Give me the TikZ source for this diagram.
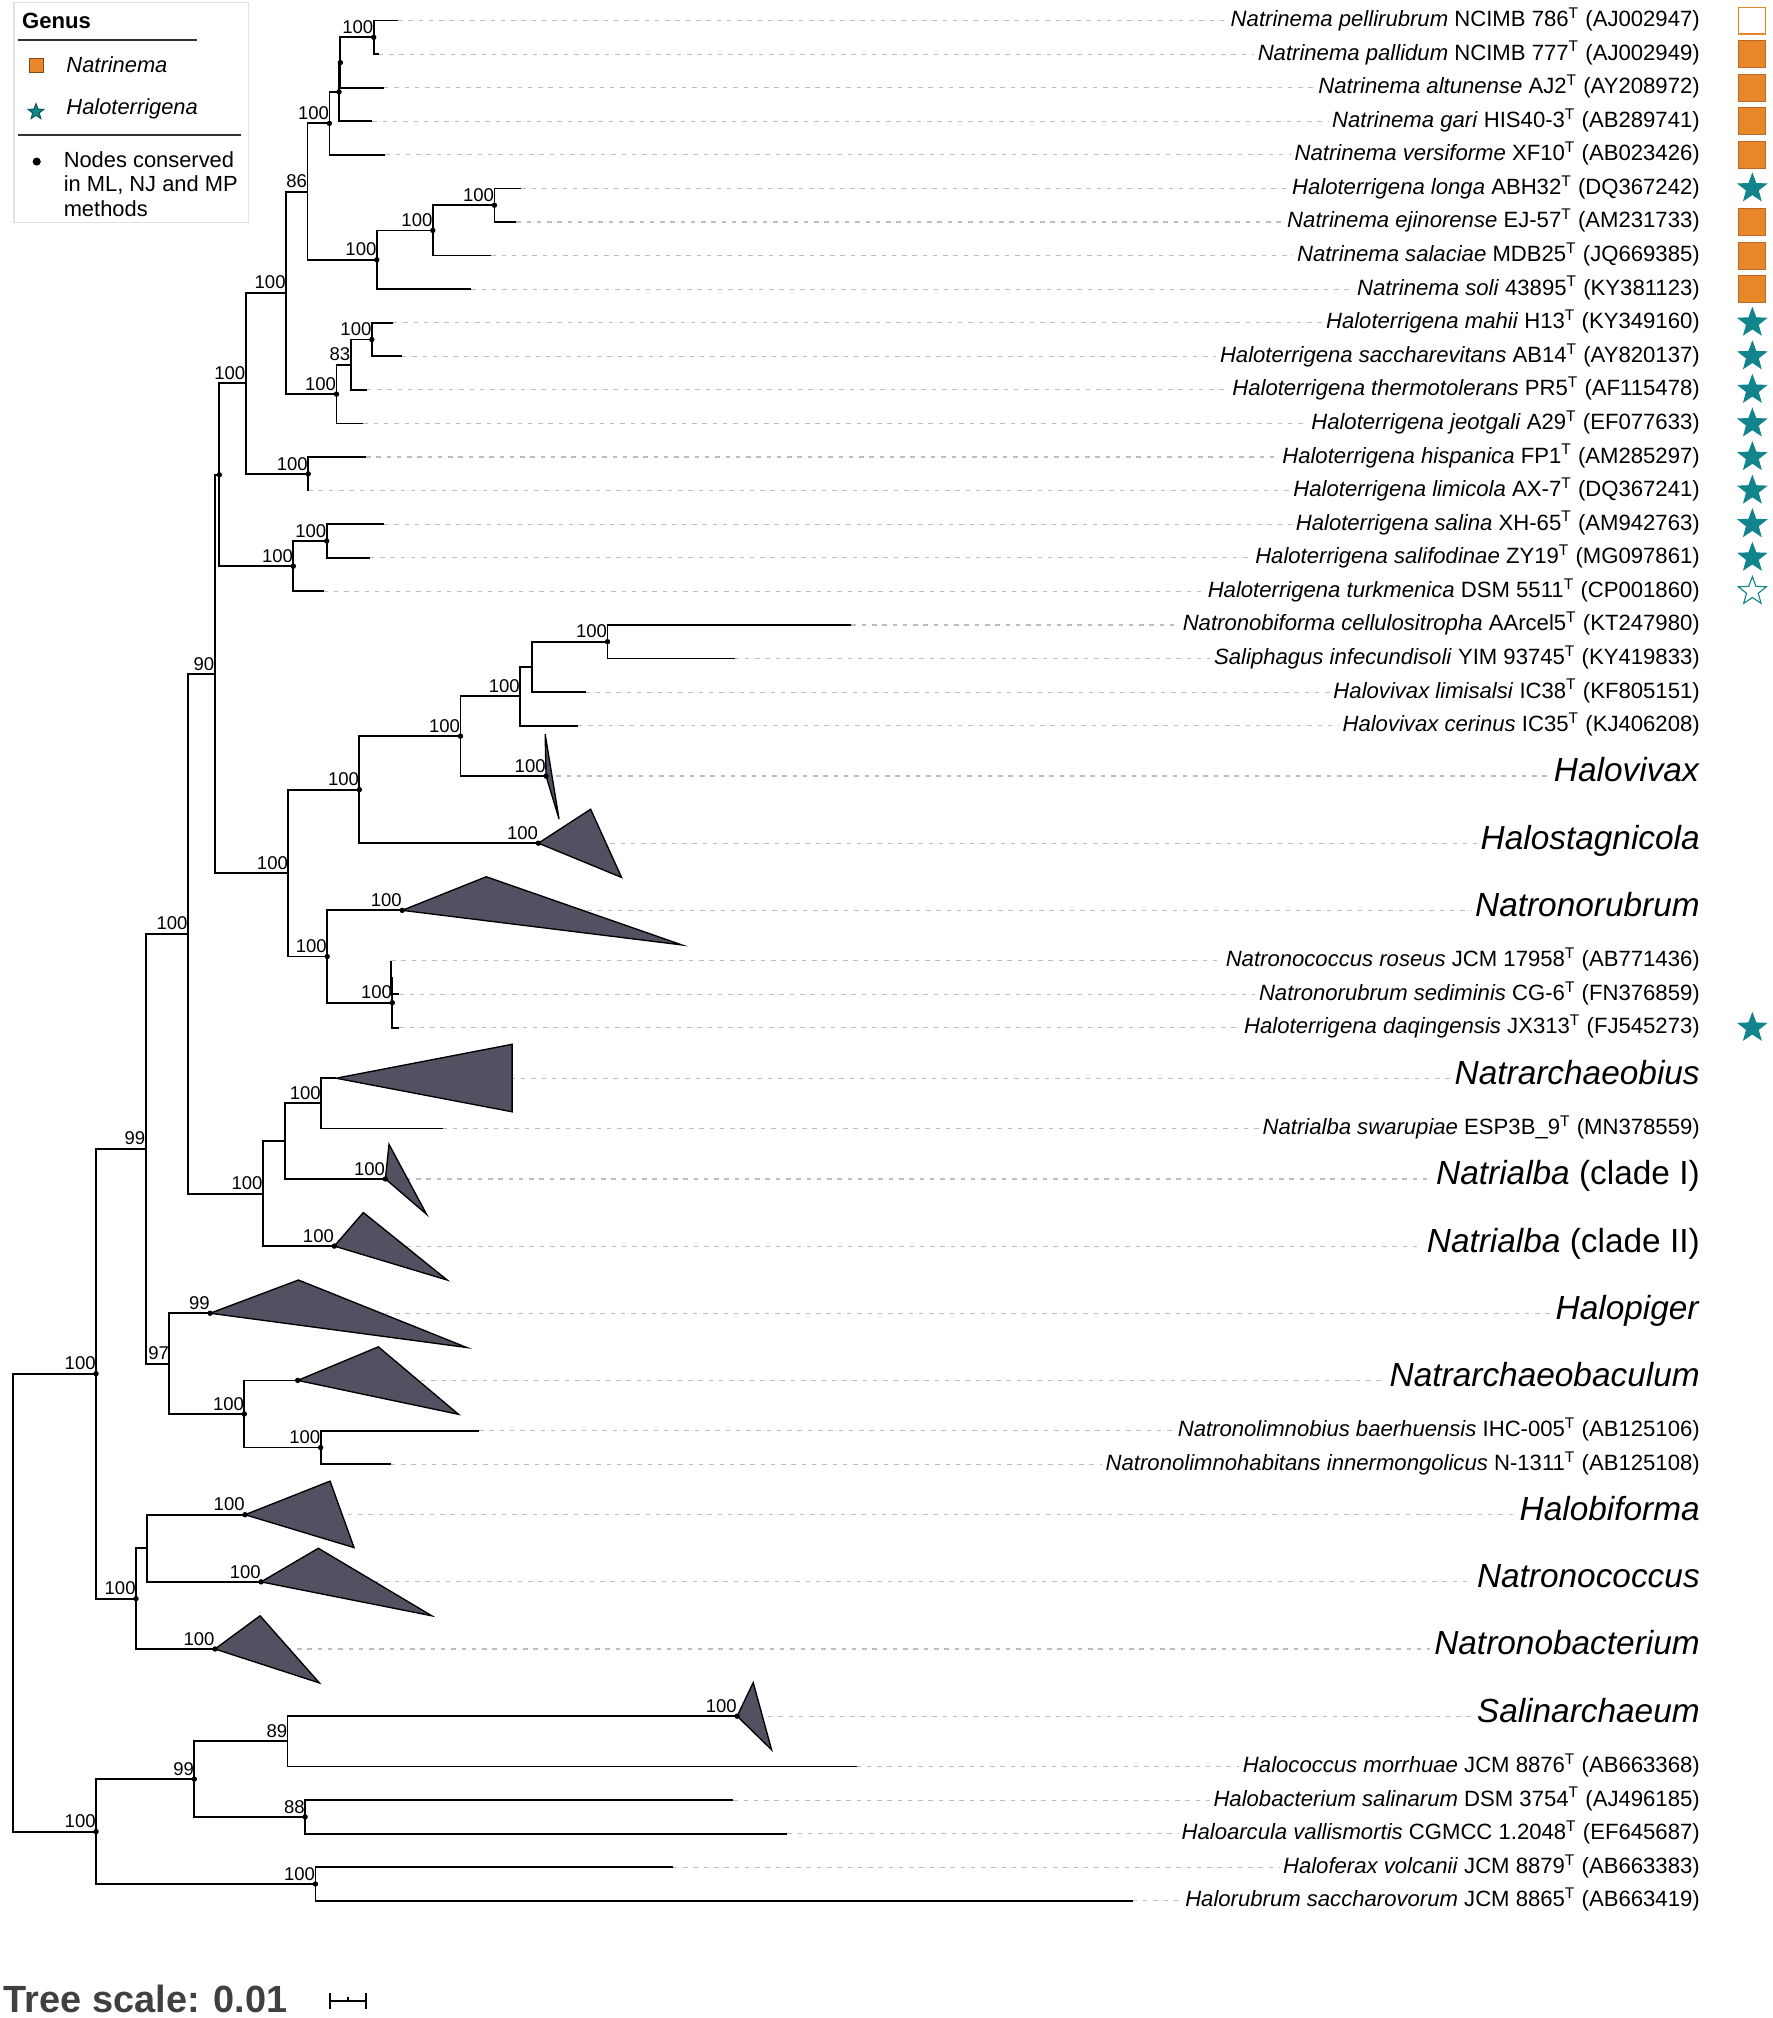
\documentclass[tikz,border=0pt]{standalone}
\usepackage{fontspec}
\setmainfont{Liberation Sans}
\usetikzlibrary{shapes.geometric}

\definecolor{natorange}{RGB}{232,134,42}
\definecolor{orangeedge}{RGB}{190,105,35}
\definecolor{haloteal}{RGB}{18,132,140}
\definecolor{tealedge}{RGB}{12,80,90}
\definecolor{cladefill}{RGB}{84,80,98}
\definecolor{guidegray}{RGB}{190,190,190}
\definecolor{framegray}{RGB}{225,225,225}
\definecolor{scalegray}{RGB}{64,64,64}

\newcommand{\typeT}{\textsuperscript{T}}

\begin{document}
\begin{tikzpicture}[x=0.02cm, y=-0.523cm,
  branch/.style={line width=0.8pt},
  guide/.style={draw=guidegray, line width=0.5pt, dash pattern=on 0.07cm off 0.09cm},
  collapsed/.style={draw=black, fill=cladefill, line width=0.6pt, line join=miter},
  leaf/.style={anchor=mid east, inner sep=1.5pt, font=\fontsize{9.8}{11}\selectfont},
  genus/.style={anchor=mid east, inner sep=1.5pt, font=\fontsize{14.8}{17}\selectfont},
  boot/.style={anchor=base east, inner sep=0pt, yshift=1.7pt, font=\fontsize{8.2}{9}\selectfont},
  orangebox/.style={draw=orangeedge, fill=natorange, line width=0.4pt, minimum size=0.42cm, inner sep=0pt},
  emptybox/.style={draw=natorange, fill=white, line width=0.5pt, minimum size=0.42cm, inner sep=0pt},
  tealstar/.style={star, star points=5, star point ratio=2.4, draw=haloteal, fill=haloteal, minimum size=0.46cm, inner sep=0pt},
  emptystar/.style={star, star points=5, star point ratio=2.4, draw=haloteal, fill=white, line width=0.5pt, minimum size=0.46cm, inner sep=0pt},
  legendtext/.style={anchor=west, inner sep=0pt, font=\fontsize{9.7}{10.8}\selectfont},
]
% Page frame (x in pixels, y in rows)
\useasboundingbox (0,-0.612) rectangle (1380,59.49);

% Internal nodes of the tree
\coordinate (a1) at (291,0.5);
\coordinate (a2) at (265,1.25);
\coordinate (a3) at (264,2.125);
\coordinate (a4) at (256.5,3.0625);
\coordinate (b1) at (385,5.5);
\coordinate (b2) at (337,6.25);
\coordinate (b3) at (293.4,7.125);
\coordinate (q) at (239.4,5.094);
\coordinate (c1) at (289.5,9.5);
\coordinate (c2) at (273,10.25);
\coordinate (c3) at (262,11.125);
\coordinate (u) at (222.7,8.109);
\coordinate (d1) at (240,13.5);
\coordinate (uu) at (191.3,10.805);
\coordinate (e1) at (254.4,15.5);
\coordinate (e2) at (228.4,16.25);
\coordinate (r1) at (170.8,13.527);
\coordinate (n1) at (473,18.5);
\coordinate (m5) at (414,19.25);
\coordinate (m4) at (405,20.125);
\coordinate (m3) at (358.5,21.313);
\coordinate (m1) at (279.8,22.906);
\coordinate (m6a) at (304.5,28.5);
\coordinate (m6) at (305.5,29.25);
\coordinate (m2) at (254.8,27.875);
\coordinate (m0) at (224.5,25.39);
\coordinate (n90) at (167.2,19.459);
\coordinate (g3) at (250.1,32.25);
\coordinate (g2) at (221.7,33.375);
\coordinate (g1) at (204.7,34.938);
\coordinate (n100b) at (146.3,27.198);
\coordinate (h2) at (249.7,42.5);
\coordinate (h1) at (190.3,41.5);
\coordinate (h97) at (131.9,40);
\coordinate (h99) at (113.4,33.599);
\coordinate (lo2) at (114.2,45.5);
\coordinate (lo1) at (105.9,47);
\coordinate (ru) at (74.8,40.3);
\coordinate (n89) at (223.9,51.25);
\coordinate (n88) at (237.6,53.5);
\coordinate (n99b) at (151.3,52.375);
\coordinate (n100c) at (245.6,55.5);
\coordinate (rl) at (74.8,53.938);
\coordinate (root) at (10.4,47.119);

% Branch tips
\coordinate (t0) at (310,0);
\coordinate (t1) at (295,1);
\coordinate (t2) at (299,2);
\coordinate (t3) at (290,3);
\coordinate (t4) at (300,4);
\coordinate (t5) at (406,5);
\coordinate (t6) at (402,6);
\coordinate (t7) at (382.5,7);
\coordinate (t8) at (367,8);
\coordinate (t9) at (306,9);
\coordinate (t10) at (313,10);
\coordinate (t11) at (285.6,11);
\coordinate (t12) at (283,12);
\coordinate (t13) at (285,13);
\coordinate (t14) at (240,14);
\coordinate (t15) at (299,15);
\coordinate (t16) at (288,16);
\coordinate (t17) at (252,17);
\coordinate (t18) at (663,18);
\coordinate (t19) at (572,19);
\coordinate (t20) at (456,20);
\coordinate (t21) at (450,21);
\coordinate (t28) at (304.5,28);
\coordinate (t29) at (311,29);
\coordinate (t30) at (311,30);
\coordinate (t33) at (344.6,33);
\coordinate (t42) at (373,42);
\coordinate (t43) at (304.3,43);
\coordinate (t52) at (667,52);
\coordinate (t53) at (571,53);
\coordinate (t54) at (613,54);
\coordinate (t55) at (524,55);
\coordinate (t56) at (882,56);

% Collapsed clades: apex, top and bottom corner
\coordinate (vivax) at (425.2,22.5);
\coordinate (vivaxTop) at (424.5,21.25);
\coordinate (vivaxBot) at (435.3,23.78);
\coordinate (stagni) at (419.2,24.5);
\coordinate (stagniTop) at (459.9,23.49);
\coordinate (stagniBot) at (484,25.52);
\coordinate (rubrum) at (313.2,26.5);
\coordinate (rubrumTop) at (378.6,25.5);
\coordinate (rubrumBot) at (530.9,27.53);
\coordinate (obius) at (261.7,31.5);
\coordinate (obiusTop) at (398.8,30.49);
\coordinate (obiusBot) at (398.8,32.5);
\coordinate (albaI) at (300.1,34.5);
\coordinate (albaITop) at (302.9,33.47);
\coordinate (albaIBot) at (332.1,35.55);
\coordinate (albaII) at (260.3,36.5);
\coordinate (albaIITop) at (282.9,35.5);
\coordinate (albaIIBot) at (348.2,37.51);
\coordinate (piger) at (163.6,38.5);
\coordinate (pigerTop) at (232.4,37.51);
\coordinate (pigerBot) at (363.4,39.52);
\coordinate (baculum) at (231.8,40.5);
\coordinate (baculumTop) at (294.6,39.5);
\coordinate (baculumBot) at (357,41.51);
\coordinate (biforma) at (190.8,44.5);
\coordinate (biformaTop) at (257,43.5);
\coordinate (biformaBot) at (275.7,45.48);
\coordinate (coccus) at (203.3,46.5);
\coordinate (coccusTop) at (247.9,45.5);
\coordinate (coccusBot) at (336.2,47.51);
\coordinate (bacter) at (167.4,48.5);
\coordinate (bacterTop) at (202.5,47.51);
\coordinate (bacterBot) at (248.7,49.51);
\coordinate (salin) at (574,50.5);
\coordinate (salinTop) at (586.5,49.5);
\coordinate (salinBot) at (600.8,51.5);

% Leaf labels
\node[leaf] (l0) at (1326.5,0) {\textit{Natrinema pellirubrum} NCIMB 786\typeT{} (AJ002947)};
\node[leaf] (l1) at (1326.5,1) {\textit{Natrinema pallidum} NCIMB 777\typeT{} (AJ002949)};
\node[leaf] (l2) at (1326.5,2) {\textit{Natrinema altunense} AJ2\typeT{} (AY208972)};
\node[leaf] (l3) at (1326.5,3) {\textit{Natrinema gari} HIS40-3\typeT{} (AB289741)};
\node[leaf] (l4) at (1326.5,4) {\textit{Natrinema versiforme} XF10\typeT{} (AB023426)};
\node[leaf] (l5) at (1326.5,5) {\textit{Haloterrigena longa} ABH32\typeT{} (DQ367242)};
\node[leaf] (l6) at (1326.5,6) {\textit{Natrinema ejinorense} EJ-57\typeT{} (AM231733)};
\node[leaf] (l7) at (1326.5,7) {\textit{Natrinema salaciae} MDB25\typeT{} (JQ669385)};
\node[leaf] (l8) at (1326.5,8) {\textit{Natrinema soli} 43895\typeT{} (KY381123)};
\node[leaf] (l9) at (1326.5,9) {\textit{Haloterrigena mahii} H13\typeT{} (KY349160)};
\node[leaf] (l10) at (1326.5,10) {\textit{Haloterrigena saccharevitans} AB14\typeT{} (AY820137)};
\node[leaf] (l11) at (1326.5,11) {\textit{Haloterrigena thermotolerans} PR5\typeT{} (AF115478)};
\node[leaf] (l12) at (1326.5,12) {\textit{Haloterrigena jeotgali} A29\typeT{} (EF077633)};
\node[leaf] (l13) at (1326.5,13) {\textit{Haloterrigena hispanica} FP1\typeT{} (AM285297)};
\node[leaf] (l14) at (1326.5,14) {\textit{Haloterrigena limicola} AX-7\typeT{} (DQ367241)};
\node[leaf] (l15) at (1326.5,15) {\textit{Haloterrigena salina} XH-65\typeT{} (AM942763)};
\node[leaf] (l16) at (1326.5,16) {\textit{Haloterrigena salifodinae} ZY19\typeT{} (MG097861)};
\node[leaf] (l17) at (1326.5,17) {\textit{Haloterrigena turkmenica} DSM 5511\typeT{} (CP001860)};
\node[leaf] (l18) at (1326.5,18) {\textit{Natronobiforma cellulositropha} AArcel5\typeT{} (KT247980)};
\node[leaf] (l19) at (1326.5,19) {\textit{Saliphagus infecundisoli} YIM 93745\typeT{} (KY419833)};
\node[leaf] (l20) at (1326.5,20) {\textit{Halovivax limisalsi} IC38\typeT{} (KF805151)};
\node[leaf] (l21) at (1326.5,21) {\textit{Halovivax cerinus} IC35\typeT{} (KJ406208)};
\node[genus] (lVivax) at (1326.5,22.5) {\textit{Halovivax}};
\node[genus] (lStagni) at (1326.5,24.5) {\textit{Halostagnicola}};
\node[genus] (lRubrum) at (1326.5,26.5) {\textit{Natronorubrum}};
\node[leaf] (l28) at (1326.5,28) {\textit{Natronococcus roseus} JCM 17958\typeT{} (AB771436)};
\node[leaf] (l29) at (1326.5,29) {\textit{Natronorubrum sediminis} CG-6\typeT{} (FN376859)};
\node[leaf] (l30) at (1326.5,30) {\textit{Haloterrigena daqingensis} JX313\typeT{} (FJ545273)};
\node[genus] (lObius) at (1326.5,31.5) {\textit{Natrarchaeobius}};
\node[leaf] (l33) at (1326.5,33) {\textit{Natrialba swarupiae} ESP3B\_9\typeT{} (MN378559)};
\node[genus] (lAlbaI) at (1326.5,34.5) {\textit{Natrialba} (clade I)};
\node[genus] (lAlbaII) at (1326.5,36.5) {\textit{Natrialba} (clade II)};
\node[genus] (lPiger) at (1326.5,38.5) {\textit{Halopiger}};
\node[genus] (lBaculum) at (1326.5,40.5) {\textit{Natrarchaeobaculum}};
\node[leaf] (l42) at (1326.5,42) {\textit{Natronolimnobius baerhuensis} IHC-005\typeT{} (AB125106)};
\node[leaf] (l43) at (1326.5,43) {\textit{Natronolimnohabitans innermongolicus} N-1311\typeT{} (AB125108)};
\node[genus] (lBiforma) at (1326.5,44.5) {\textit{Halobiforma}};
\node[genus] (lCoccus) at (1326.5,46.5) {\textit{Natronococcus}};
\node[genus] (lBacter) at (1326.5,48.5) {\textit{Natronobacterium}};
\node[genus] (lSalin) at (1326.5,50.5) {\textit{Salinarchaeum}};
\node[leaf] (l52) at (1326.5,52) {\textit{Halococcus morrhuae} JCM 8876\typeT{} (AB663368)};
\node[leaf] (l53) at (1326.5,53) {\textit{Halobacterium salinarum} DSM 3754\typeT{} (AJ496185)};
\node[leaf] (l54) at (1326.5,54) {\textit{Haloarcula vallismortis} CGMCC 1.2048\typeT{} (EF645687)};
\node[leaf] (l55) at (1326.5,55) {\textit{Haloferax volcanii} JCM 8879\typeT{} (AB663383)};
\node[leaf] (l56) at (1326.5,56) {\textit{Halorubrum saccharovorum} JCM 8865\typeT{} (AB663419)};

% Dashed guides from the tips to the labels
\draw[guide] (t0) -- (l0.mid west);
\draw[guide] (t1) -- (l1.mid west);
\draw[guide] (t2) -- (l2.mid west);
\draw[guide] (t3) -- (l3.mid west);
\draw[guide] (t4) -- (l4.mid west);
\draw[guide] (t5) -- (l5.mid west);
\draw[guide] (t6) -- (l6.mid west);
\draw[guide] (t7) -- (l7.mid west);
\draw[guide] (t8) -- (l8.mid west);
\draw[guide] (t9) -- (l9.mid west);
\draw[guide] (t10) -- (l10.mid west);
\draw[guide] (t11) -- (l11.mid west);
\draw[guide] (t12) -- (l12.mid west);
\draw[guide] (t13) -- (l13.mid west);
\draw[guide] (t14) -- (l14.mid west);
\draw[guide] (t15) -- (l15.mid west);
\draw[guide] (t16) -- (l16.mid west);
\draw[guide] (t17) -- (l17.mid west);
\draw[guide] (t18) -- (l18.mid west);
\draw[guide] (t19) -- (l19.mid west);
\draw[guide] (t20) -- (l20.mid west);
\draw[guide] (t21) -- (l21.mid west);
\draw[guide] (vivax) -- (lVivax.mid west);
\draw[guide] (stagni) -- (lStagni.mid west);
\draw[guide] (rubrum) -- (lRubrum.mid west);
\draw[guide] (t28) -- (l28.mid west);
\draw[guide] (t29) -- (l29.mid west);
\draw[guide] (t30) -- (l30.mid west);
\draw[guide] (obius) -- (lObius.mid west);
\draw[guide] (t33) -- (l33.mid west);
\draw[guide] (albaI) -- (lAlbaI.mid west);
\draw[guide] (albaII) -- (lAlbaII.mid west);
\draw[guide] (piger) -- (lPiger.mid west);
\draw[guide] (baculum) -- (lBaculum.mid west);
\draw[guide] (t42) -- (l42.mid west);
\draw[guide] (t43) -- (l43.mid west);
\draw[guide] (biforma) -- (lBiforma.mid west);
\draw[guide] (coccus) -- (lCoccus.mid west);
\draw[guide] (bacter) -- (lBacter.mid west);
\draw[guide] (salin) -- (lSalin.mid west);
\draw[guide] (t52) -- (l52.mid west);
\draw[guide] (t53) -- (l53.mid west);
\draw[guide] (t54) -- (l54.mid west);
\draw[guide] (t55) -- (l55.mid west);
\draw[guide] (t56) -- (l56.mid west);

% Draw the collapsed clades
\filldraw[collapsed] (vivax) -- (vivaxTop) -- (vivaxBot) -- cycle;
\filldraw[collapsed] (stagni) -- (stagniTop) -- (stagniBot) -- cycle;
\filldraw[collapsed] (rubrum) -- (rubrumTop) -- (rubrumBot) -- cycle;
\filldraw[collapsed] (obius) -- (obiusTop) -- (obiusBot) -- cycle;
\filldraw[collapsed] (albaI) -- (albaITop) -- (albaIBot) -- cycle;
\filldraw[collapsed] (albaII) -- (albaIITop) -- (albaIIBot) -- cycle;
\filldraw[collapsed] (piger) -- (pigerTop) -- (pigerBot) -- cycle;
\filldraw[collapsed] (baculum) -- (baculumTop) -- (baculumBot) -- cycle;
\filldraw[collapsed] (biforma) -- (biformaTop) -- (biformaBot) -- cycle;
\filldraw[collapsed] (coccus) -- (coccusTop) -- (coccusBot) -- cycle;
\filldraw[collapsed] (bacter) -- (bacterTop) -- (bacterBot) -- cycle;
\filldraw[collapsed] (salin) -- (salinTop) -- (salinBot) -- cycle;

% Draw the branches, parent to child
\draw[branch] (a1) |- (t0);
\draw[branch] (a1) |- (t1);
\draw[branch] (a2) |- (a1);
\draw[branch] (a2) |- (t2);
\draw[branch] (a3) |- (a2);
\draw[branch] (a3) |- (t3);
\draw[branch] (a4) |- (a3);
\draw[branch] (a4) |- (t4);
\draw[branch] (b1) |- (t5);
\draw[branch] (b1) |- (t6);
\draw[branch] (b2) |- (b1);
\draw[branch] (b2) |- (t7);
\draw[branch] (b3) |- (b2);
\draw[branch] (b3) |- (t8);
\draw[branch] (q) |- (a4);
\draw[branch] (q) |- (b3);
\draw[branch] (c1) |- (t9);
\draw[branch] (c1) |- (t10);
\draw[branch] (c2) |- (c1);
\draw[branch] (c2) |- (t11);
\draw[branch] (c3) |- (c2);
\draw[branch] (c3) |- (t12);
\draw[branch] (u) |- (q);
\draw[branch] (u) |- (c3);
\draw[branch] (d1) |- (t13);
\draw[branch] (d1) |- (t14);
\draw[branch] (uu) |- (u);
\draw[branch] (uu) |- (d1);
\draw[branch] (e1) |- (t15);
\draw[branch] (e1) |- (t16);
\draw[branch] (e2) |- (e1);
\draw[branch] (e2) |- (t17);
\draw[branch] (r1) |- (uu);
\draw[branch] (r1) |- (e2);
\draw[branch] (n1) |- (t18);
\draw[branch] (n1) |- (t19);
\draw[branch] (m5) |- (n1);
\draw[branch] (m5) |- (t20);
\draw[branch] (m4) |- (m5);
\draw[branch] (m4) |- (t21);
\draw[branch] (m3) |- (m4);
\draw[branch] (m3) |- (vivax);
\draw[branch] (m1) |- (m3);
\draw[branch] (m1) |- (stagni);
\draw[branch] (m6a) |- (t28);
\draw[branch] (m6a) |- (t29);
\draw[branch] (m6) |- (m6a);
\draw[branch] (m6) |- (t30);
\draw[branch] (m2) |- (rubrum);
\draw[branch] (m2) |- (m6);
\draw[branch] (m0) |- (m1);
\draw[branch] (m0) |- (m2);
\draw[branch] (n90) |- (r1);
\draw[branch] (n90) |- (m0);
\draw[branch] (g3) |- (obius);
\draw[branch] (g3) |- (t33);
\draw[branch] (g2) |- (g3);
\draw[branch] (g2) |- (albaI);
\draw[branch] (g1) |- (g2);
\draw[branch] (g1) |- (albaII);
\draw[branch] (n100b) |- (n90);
\draw[branch] (n100b) |- (g1);
\draw[branch] (h2) |- (t42);
\draw[branch] (h2) |- (t43);
\draw[branch] (h1) |- (baculum);
\draw[branch] (h1) |- (h2);
\draw[branch] (h97) |- (piger);
\draw[branch] (h97) |- (h1);
\draw[branch] (h99) |- (n100b);
\draw[branch] (h99) |- (h97);
\draw[branch] (lo2) |- (biforma);
\draw[branch] (lo2) |- (coccus);
\draw[branch] (lo1) |- (lo2);
\draw[branch] (lo1) |- (bacter);
\draw[branch] (ru) |- (h99);
\draw[branch] (ru) |- (lo1);
\draw[branch] (n89) |- (salin);
\draw[branch] (n89) |- (t52);
\draw[branch] (n88) |- (t53);
\draw[branch] (n88) |- (t54);
\draw[branch] (n99b) |- (n89);
\draw[branch] (n99b) |- (n88);
\draw[branch] (n100c) |- (t55);
\draw[branch] (n100c) |- (t56);
\draw[branch] (rl) |- (n99b);
\draw[branch] (rl) |- (n100c);
\draw[branch] (root) |- (ru);
\draw[branch] (root) |- (rl);

% Nodes conserved in ML, NJ and MP
\fill (a1) circle (1.2pt);
\fill (a2) circle (1.2pt);
\fill (a3) circle (1.2pt);
\fill (a4) circle (1.2pt);
\fill (b1) circle (1.2pt);
\fill (b2) circle (1.2pt);
\fill (b3) circle (1.2pt);
\fill (c1) circle (1.2pt);
\fill (c3) circle (1.2pt);
\fill (d1) circle (1.2pt);
\fill (e1) circle (1.2pt);
\fill (e2) circle (1.2pt);
\fill (r1) circle (1.2pt);
\fill (n1) circle (1.2pt);
\fill (m3) circle (1.2pt);
\fill (vivax) circle (1.2pt);
\fill (stagni) circle (1.2pt);
\fill (m1) circle (1.2pt);
\fill (rubrum) circle (1.2pt);
\fill (m6) circle (1.2pt);
\fill (m2) circle (1.2pt);
\fill (albaI) circle (1.2pt);
\fill (albaII) circle (1.2pt);
\fill (piger) circle (1.2pt);
\fill (baculum) circle (1.2pt);
\fill (h1) circle (1.2pt);
\fill (h2) circle (1.2pt);
\fill (biforma) circle (1.2pt);
\fill (coccus) circle (1.2pt);
\fill (bacter) circle (1.2pt);
\fill (lo1) circle (1.2pt);
\fill (ru) circle (1.2pt);
\fill (salin) circle (1.2pt);
\fill (n99b) circle (1.2pt);
\fill (n88) circle (1.2pt);
\fill (n100c) circle (1.2pt);
\fill (rl) circle (1.2pt);

% Bootstrap values
\node[boot] (bs-a1) at (a1) {100};
\node[boot] (bs-a4) at (a4) {100};
\node[boot] (bs-b1) at (b1) {100};
\node[boot] (bs-b2) at (b2) {100};
\node[boot] (bs-b3) at (b3) {100};
\node[boot] (bs-q) at (q) {86};
\node[boot] (bs-c1) at (c1) {100};
\node[boot] (bs-c2) at (c2) {83};
\node[boot] (bs-c3) at (c3) {100};
\node[boot] (bs-u) at (u) {100};
\node[boot] (bs-d1) at (d1) {100};
\node[boot] (bs-uu) at (uu) {100};
\node[boot] (bs-e1) at (e1) {100};
\node[boot] (bs-e2) at (e2) {100};
\node[boot] (bs-n1) at (n1) {100};
\node[boot] (bs-m4) at (m4) {100};
\node[boot] (bs-m3) at (m3) {100};
\node[boot] (bs-vivax) at (vivax) {100};
\node[boot] (bs-stagni) at (stagni) {100};
\node[boot] (bs-m1) at (m1) {100};
\node[boot] (bs-rubrum) at (rubrum) {100};
\node[boot] (bs-m6) at (m6) {100};
\node[boot] (bs-m2) at (m2) {100};
\node[boot] (bs-m0) at (m0) {100};
\node[boot] (bs-n90) at (n90) {90};
\node[boot] (bs-g3) at (g3) {100};
\node[boot] (bs-albaI) at (albaI) {100};
\node[boot] (bs-g1) at (g1) {100};
\node[boot] (bs-albaII) at (albaII) {100};
\node[boot] (bs-n100b) at (n100b) {100};
\node[boot] (bs-piger) at (piger) {99};
\node[boot] (bs-h97) at (h97) {97};
\node[boot] (bs-h1) at (h1) {100};
\node[boot] (bs-h2) at (h2) {100};
\node[boot] (bs-h99) at (h99) {99};
\node[boot] (bs-biforma) at (biforma) {100};
\node[boot] (bs-coccus) at (coccus) {100};
\node[boot] (bs-bacter) at (bacter) {100};
\node[boot] (bs-lo1) at (lo1) {100};
\node[boot] (bs-ru) at (ru) {100};
\node[boot] (bs-salin) at (salin) {100};
\node[boot] (bs-n89) at (n89) {89};
\node[boot] (bs-n99b) at (n99b) {99};
\node[boot] (bs-n88) at (n88) {88};
\node[boot] (bs-n100c) at (n100c) {100};
\node[boot] (bs-rl) at (rl) {100};

% Genus markers on the right
\node[emptybox] (mk0) at (1364.5,0) {};
\node[orangebox] (mk1) at (1364.5,1) {};
\node[orangebox] (mk2) at (1364.5,2) {};
\node[orangebox] (mk3) at (1364.5,3) {};
\node[orangebox] (mk4) at (1364.5,4) {};
\node[tealstar] (mk5) at (1364.5,5) {};
\node[orangebox] (mk6) at (1364.5,6) {};
\node[orangebox] (mk7) at (1364.5,7) {};
\node[orangebox] (mk8) at (1364.5,8) {};
\node[tealstar] (mk9) at (1364.5,9) {};
\node[tealstar] (mk10) at (1364.5,10) {};
\node[tealstar] (mk11) at (1364.5,11) {};
\node[tealstar] (mk12) at (1364.5,12) {};
\node[tealstar] (mk13) at (1364.5,13) {};
\node[tealstar] (mk14) at (1364.5,14) {};
\node[tealstar] (mk15) at (1364.5,15) {};
\node[tealstar] (mk16) at (1364.5,16) {};
\node[emptystar] (mk17) at (1364.5,17) {};
\node[tealstar] (mk30) at (1364.5,30) {};

% Legend
\filldraw[draw=framegray, fill=white, line width=0.5pt] (10.9,-0.535) rectangle (193.4,6.02);
\node[legendtext, font=\fontsize{9.8}{11}\selectfont\bfseries] (lgGenus) at (16.9,0) {Genus};
\coordinate (lgRuleAL) at (14.3,0.58);
\coordinate (lgRuleAR) at (153.7,0.58);
\draw[line width=0.7pt, black!80] (lgRuleAL) -- (lgRuleAR);
\node[orangebox, draw=orangeedge!70!black, minimum size=0.22cm] (lgBox) at (28.3,1.34) {};
\node[legendtext] (lgNat) at (51.4,1.32) {\textit{Natrinema}};
\node[tealstar, draw=tealedge, minimum size=0.26cm] (lgStar) at (28,2.72) {};
\node[legendtext] (lgHal) at (51.4,2.62) {\textit{Haloterrigena}};
\coordinate (lgRuleBL) at (14.3,3.41);
\coordinate (lgRuleBR) at (187.4,3.41);
\draw[line width=0.7pt, black!80] (lgRuleBL) -- (lgRuleBR);
\fill (28.6,4.2) circle (1.8pt);
\node[legendtext, anchor=north west, align=left] (lgNodes) at (49.3,3.89) {Nodes conserved\\in ML, NJ and MP\\methods};

% Tree scale
\node[anchor=west, inner sep=0pt, text=scalegray, font=\fontsize{16.8}{19}\selectfont\bfseries] (treescale) at (2.6,58.93) {Tree scale: 0.01};
\coordinate (sbL) at (257,58.98);
\coordinate (sbM) at (270.9,58.98);
\coordinate (sbR) at (284.8,58.98);
\draw[line width=1pt] (sbL) -- (sbR);
\draw[line width=1pt] (sbL) ++(0,-0.25) -- ++(0,0.5);
\draw[line width=1pt] (sbR) ++(0,-0.25) -- ++(0,0.5);
\draw[line width=0.8pt] (sbM) ++(0,-0.13) -- (sbM);
\end{tikzpicture}
\end{document}
